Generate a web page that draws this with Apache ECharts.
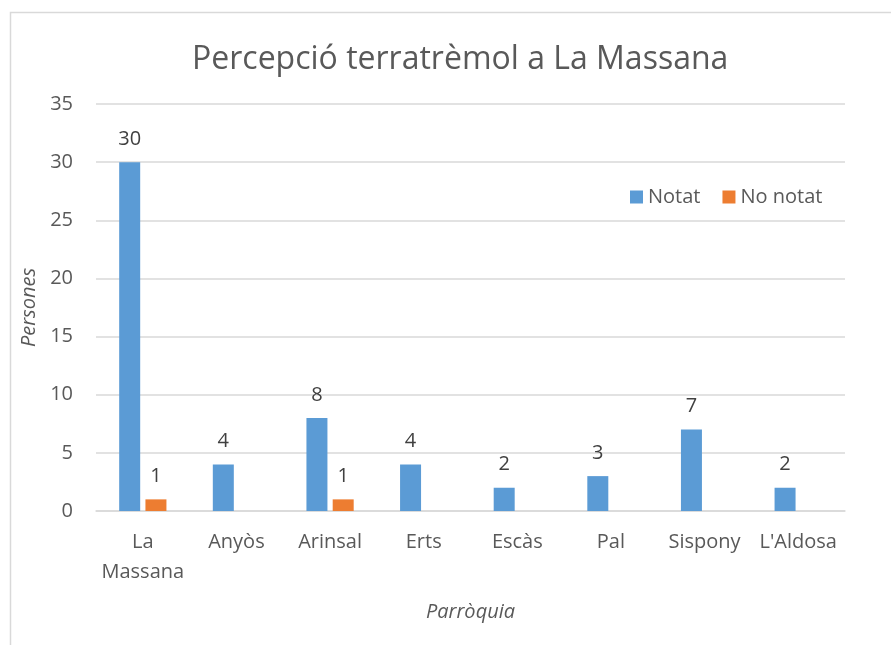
<!DOCTYPE html>
<html>
<head>
<meta charset="utf-8">
<script src="https://cdn.jsdelivr.net/npm/echarts@6/dist/echarts.min.js"></script>
<style>
  html, body { margin: 0; padding: 0; background: #fff; }
  #chart { width: 891px; height: 645px; }
</style>
</head>
<body>
<div id="chart"></div>
<script>
var parroquies = ['La\nMassana', 'Anyòs', 'Arinsal', 'Erts', 'Escàs', 'Pal', 'Sispony', "L'Aldosa"];
var notat = [30, 4, 8, 4, 2, 3, 7, 2];
var noNotat = [1, null, 1, null, null, null, null, null];
var yTicks = { min: 0, max: 35, interval: 5 };

var font = '"Open Sans", "Noto Sans", sans-serif';
var gris = '#595959';

var myChart = echarts.init(document.getElementById('chart'), null, { renderer: 'canvas' });
var option = {
  backgroundColor: '#fff',
  animation: false,
  textStyle: { fontFamily: font },
  // marc del grafic
  graphic: [{
    type: 'rect',
    shape: { x: 10.5, y: 12.5, width: 900, height: 700 },
    style: { fill: 'none', stroke: '#d9d9d9', lineWidth: 1.5 },
    silent: true
  }],
  title: {
    text: 'Percepció terratrèmol a La Massana',
    left: 187,
    top: 39,
    textStyle: { fontFamily: font, fontSize: 32, fontWeight: 'normal', color: gris }
  },
  legend: {
    left: 625,
    top: 182,
    itemWidth: 13,
    itemHeight: 13,
    itemGap: 22,
    icon: 'rect',
    textStyle: { fontFamily: font, fontSize: 20, color: gris },
    data: ['Notat', 'No notat']
  },
  grid: { left: 96, right: 46, top: 104, bottom: 134 },
  xAxis: {
    type: 'category',
    data: parroquies,
    name: 'Parròquia',
    nameLocation: 'middle',
    nameGap: 91,
    nameTextStyle: { fontFamily: font, fontSize: 20, fontStyle: 'italic', color: gris },
    axisLine: { lineStyle: { color: '#d9d9d9', width: 1.5 } },
    axisTick: { show: false },
    axisLabel: { fontFamily: font, fontSize: 20, color: gris, margin: 16, lineHeight: 30, interval: 0 }
  },
  yAxis: {
    type: 'value',
    min: yTicks.min,
    max: yTicks.max,
    interval: yTicks.interval,
    name: 'Persones',
    nameLocation: 'middle',
    nameGap: 47,
    nameTextStyle: { fontFamily: font, fontSize: 20, fontStyle: 'italic', color: gris },
    axisLine: { show: false },
    axisTick: { show: false },
    axisLabel: { fontFamily: font, fontSize: 20, color: gris, margin: 23 },
    splitLine: { lineStyle: { color: '#d9d9d9', width: 1.5 } }
  },
  series: [
    {
      name: 'Notat',
      type: 'bar',
      data: notat,
      barWidth: 21,
      barGap: '25%',
      itemStyle: { color: '#5b9bd5' },
      label: { show: true, position: 'top', distance: 13, fontFamily: font, fontSize: 20, color: '#404040' }
    },
    {
      name: 'No notat',
      type: 'bar',
      data: noNotat,
      barWidth: 21,
      itemStyle: { color: '#ed7d31' },
      label: { show: true, position: 'top', distance: 13, fontFamily: font, fontSize: 20, color: '#404040' }
    }
  ]
};
myChart.setOption(option);
</script>
</body>
</html>
